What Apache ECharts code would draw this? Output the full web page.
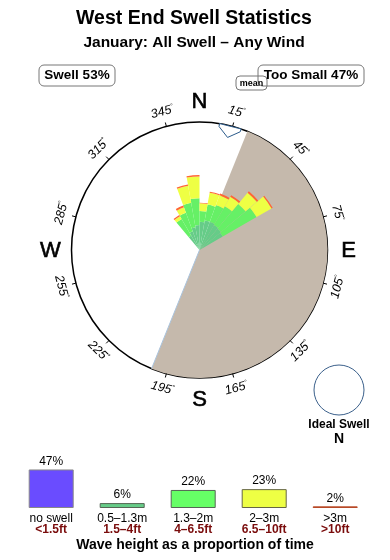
<!DOCTYPE html>
<html><head><meta charset="utf-8">
<script src="https://cdn.jsdelivr.net/npm/echarts@6/dist/echarts.min.js"></script>
<style>html,body{margin:0;padding:0;background:#fff}#c{width:390px;height:560px}</style>
</head><body><div id="c"></div>
<script>
// ---- data ----
const binStarts = [320, 330, 340, 350, 0, 10, 20, 30, 40, 50];   // bearing where each 10° bin starts
// radial lengths in % of rose radius, per wave-height band (stacked)
const band05_13 = [13, 15.5, 18, 19.5, 22, 23.5, 23.5, 22.5, 22, 21];
const band13_2  = [15, 15.5, 19.5, 21, 8.5, 12.5, 14, 17, 25, 30.5];
const band2_3   = [2.5, 4.5, 13.5, 17, 6, 9.5, 8, 8.5, 11.5, 13.5];
const band3p    = [1, 1.5, 1, 1, 0.5, 0.8, 1.5, 1.5, 1.5, 1];
const landFrom = 22, landTo = 202;   // shaded (land) sector, bearings
const meanDir = 14;                  // mean swell direction
const degreeLabels = [15, 45, 75, 105, 135, 165, 195, 225, 255, 285, 315, 345];
const cardinals = [['N', 0], ['E', 90], ['S', 180], ['W', 270]];
const legendCats = ['no swell', '0.5–1.3m', '1.3–2m', '2–3m', '>3m'];
const legendFt = ['<1.5ft', '1.5–4ft', '4–6.5ft', '6.5–10ft', '>10ft'];
const legendPct = [47, 6, 22, 23, 2];
const legendColors = ['#6a4cff', '#66cc88', '#66ff66', '#eeff44', '#cc5533'];
const legendBorders = ['#888888', '#556655', '#556655', '#666644', '#b84a28'];

// ---- build 36-bin arrays ----
const binNames = [];
for (let i = 0; i < 36; i++) binNames.push(String(i * 10));
function full(arr) {
  const out = new Array(36).fill(0);
  binStarts.forEach((b, k) => { out[b / 10] = arr[k]; });
  return out;
}
const FONT = 'Liberation Sans, Arial, sans-serif';
const rad = d => d * Math.PI / 180;
function pt(cs, r, b) { return [cs.cx + r * Math.sin(rad(b)), cs.cy - r * Math.cos(rad(b))]; }

const chart = echarts.init(document.getElementById('c'), null, { renderer: 'canvas' });
const roseColors = ['#66cc88', '#66f066', '#eeff44', '#ff6633'];
const bands = [band05_13, band13_2, band2_3, band3p];

const series = [];
// land sector
series.push({
  type: 'custom', coordinateSystem: 'polar', z: 1, silent: true,
  data: [[0, 0]],
  renderItem: function (params) {
    const cs = params.coordSys;
    const e = pt(cs, cs.r, landTo);
    return { type: 'group', children: [
      { type: 'sector', shape: { cx: cs.cx, cy: cs.cy, r0: 0, r: cs.r, startAngle: rad(landFrom - 90), endAngle: rad(landTo - 90), clockwise: true }, style: { fill: '#c5b9ac' } },
      { type: 'line', shape: { x1: cs.cx, y1: cs.cy, x2: e[0], y2: e[1] }, style: { stroke: '#a9c3dd', lineWidth: 1 } }
    ] };
  }
});
bands.forEach((b, k) => {
  series.push({
    type: 'bar', coordinateSystem: 'polar', stack: 'rose', z: 3,
    data: full(b), barWidth: '100%', barCategoryGap: '0%', itemStyle: { color: roseColors[k] }, silent: true
  });
});
// labels, ticks, mean arrow
series.push({
  type: 'custom', coordinateSystem: 'polar', z: 5, silent: true,
  data: [[0, 0]],
  renderItem: function (params) {
    const cs = params.coordSys;
    const ch = [];
    degreeLabels.forEach(b => {
      const p0 = pt(cs, cs.r, b), p1 = pt(cs, cs.r + 4, b);
      ch.push({ type: 'line', shape: { x1: p0[0], y1: p0[1], x2: p1[0], y2: p1[1] }, style: { stroke: '#000', lineWidth: 1 } });
      let th = b <= 90 ? b : (b >= 270 ? b - 360 : b - 180);
      const p = pt(cs, cs.r + 15, b);
      ch.push({ type: 'text', x: p[0], y: p[1], rotation: -rad(th),
        style: { text: '{n|' + b + '}{d|°}', align: 'center', verticalAlign: 'middle',
          rich: { n: { fontSize: 12.5, fontStyle: 'italic', fontFamily: FONT, fill: '#000', lineHeight: 13 },
                  d: { fontSize: 7, fontFamily: FONT, fill: '#000', verticalAlign: 'top', lineHeight: 13 } } } });
    });
    cardinals.forEach(c => {
      const p = pt(cs, cs.r + 21, c[1]);
      ch.push({ type: 'text', x: p[0], y: p[1] + 1, style: { text: c[0], align: 'center', verticalAlign: 'middle', fontSize: 22, fontFamily: FONT, fill: '#000', stroke: '#000', lineWidth: 0.6 } });
    });
    const m = meanDir;
    const pts = [pt(cs, cs.r, m - 5), pt(cs, cs.r - 3, m - 5), pt(cs, cs.r - 12, m), pt(cs, cs.r - 3, m + 5), pt(cs, cs.r, m + 5)];
    ch.push({ type: 'polygon', shape: { points: pts }, style: { fill: '#fff', stroke: '#2a5a8a', lineWidth: 1 } });
    return { type: 'group', children: ch };
  }
});
// legend bars
series.push({
  type: 'bar', xAxisIndex: 0, yAxisIndex: 0, barWidth: 45,
  data: legendPct.map((v, i) => ({ value: v, itemStyle: { color: legendColors[i], borderColor: legendBorders[i], borderWidth: 1 } })),
  label: { show: true, position: 'top', distance: 2, formatter: '{c}%', fontSize: 12, fontFamily: FONT, color: '#000' },
  silent: true
});

const option = {
  animation: false,
  polar: { center: [199.5, 250], radius: 128 },
  angleAxis: { type: 'category', data: binNames, startAngle: 90, clockwise: true, boundaryGap: true,
    axisLine: { show: true, lineStyle: { color: '#000', width: 1.5 } },
    axisTick: { show: false }, axisLabel: { show: false }, splitLine: { show: false } },
  radiusAxis: { type: 'value', min: 0, max: 100, show: false, axisLine: { show: false }, axisLabel: { show: false }, splitLine: { show: false }, axisTick: { show: false } },
  grid: { left: 15.7, width: 355, top: 426, height: 82 },
  xAxis: { type: 'category', data: legendCats, axisLine: { show: false }, axisTick: { show: false },
    axisLabel: { interval: 0, margin: 5, formatter: (v, i) => '{a|' + v + '}\n{b|' + legendFt[i] + '}',
      rich: { a: { fontSize: 12, fontFamily: FONT, color: '#000', lineHeight: 11 },
              b: { fontSize: 12, fontFamily: FONT, fontWeight: 'bold', color: '#7a0c0c', lineHeight: 12 } } } },
  yAxis: { type: 'value', min: 0, max: 100, show: false, splitLine: { show: false } },
  graphic: [
    { type: 'text', x: 194, y: 18.5, style: { text: 'West End Swell Statistics', align: 'center', verticalAlign: 'middle', fontSize: 19.5, fontWeight: 'bold', fontFamily: FONT, fill: '#000' } },
    { type: 'text', x: 194, y: 43, style: { text: 'January: All Swell – Any Wind', align: 'center', verticalAlign: 'middle', fontSize: 15.5, fontWeight: 'bold', fontFamily: FONT, fill: '#000' } },
    { type: 'rect', shape: { x: 39, y: 65, width: 76, height: 21, r: 5 }, style: { fill: 'none', stroke: '#777', lineWidth: 1 } },
    { type: 'text', x: 77, y: 75.5, style: { text: 'Swell 53%', align: 'center', verticalAlign: 'middle', fontSize: 13.5, fontWeight: 'bold', fontFamily: FONT, fill: '#000' } },
    { type: 'rect', shape: { x: 258, y: 65, width: 106, height: 21, r: 5 }, style: { fill: 'none', stroke: '#777', lineWidth: 1 } },
    { type: 'rect', shape: { x: 236, y: 76, width: 31, height: 14, r: 4 }, style: { fill: 'none', stroke: '#777', lineWidth: 1 } },
    { type: 'text', x: 311, y: 75.5, style: { text: 'Too Small 47%', align: 'center', verticalAlign: 'middle', fontSize: 13.5, fontWeight: 'bold', fontFamily: FONT, fill: '#000' } },
    { type: 'text', x: 251.5, y: 83.5, style: { text: 'mean', align: 'center', verticalAlign: 'middle', fontSize: 9, fontWeight: 'bold', fontFamily: FONT, fill: '#000' } },
    { type: 'circle', shape: { cx: 339, cy: 390, r: 25 }, style: { fill: '#fff', stroke: '#3a5f8a', lineWidth: 1 } },
    { type: 'text', x: 339, y: 425, style: { text: 'Ideal Swell', align: 'center', verticalAlign: 'middle', fontSize: 12, fontWeight: 'bold', fontFamily: FONT, fill: '#000' } },
    { type: 'text', x: 339, y: 439.5, style: { text: 'N', align: 'center', verticalAlign: 'middle', fontSize: 14, fontWeight: 'bold', fontFamily: FONT, fill: '#000' } },
    { type: 'text', x: 195, y: 545.5, style: { text: 'Wave height as a proportion of time', align: 'center', verticalAlign: 'middle', fontSize: 14, fontWeight: 'bold', fontFamily: FONT, fill: '#000' } }
  ],
  series: series
};
chart.setOption(option);
</script>
</body></html>
